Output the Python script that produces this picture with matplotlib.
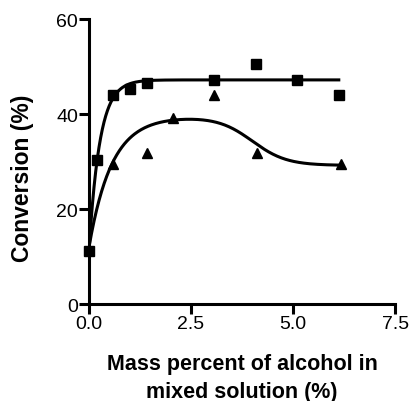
import numpy as np
import matplotlib.pyplot as plt

plt.rcParams['font.family'] = ['Liberation Sans', 'DejaVu Sans']

# measured points
sq_x = [0.0, 0.2, 0.6, 1.0, 1.43, 3.06, 4.08, 5.1, 6.12]
sq_y = [11.2, 30.3, 44.0, 45.3, 46.5, 47.2, 50.6, 47.2, 44.1]
tri_x = [0.6, 1.43, 2.06, 3.07, 4.12, 6.18]
tri_y = [29.6, 31.8, 39.2, 44.0, 31.9, 29.4]

# fitted curves (rise to plateau; rise then sigmoid drop)
def sq_fit(x):
    return 11.2 + 36.0 * (1 - np.exp(-3.8 * x))

def tri_fit(x):
    return 12.0 + 27.5 * (1 - np.exp(-1.8 * x)) - 10.3 / (1 + np.exp(-(x - 4.0) / 0.42))

xs1 = np.linspace(0, 6.12, 300)
xs2 = np.linspace(0, 6.18, 300)

fig = plt.figure(figsize=(4.12, 4.02), dpi=100)
ax = fig.add_axes([0.216, 0.241, 0.743, 0.709])

ax.plot(xs1, sq_fit(xs1), color='k', lw=2.2)
ax.plot(xs2, tri_fit(xs2), color='k', lw=2.2)
ax.plot(sq_x, sq_y, 's', color='k', ms=6.5, clip_on=False)
ax.plot(tri_x, tri_y, '^', color='k', ms=6.5, clip_on=False)

ax.set_xlim(0, 7.5)
ax.set_ylim(0, 60)
ax.set_xticks([0, 2.5, 5.0, 7.5])
ax.set_xticklabels(['0.0', '2.5', '5.0', '7.5'])
ax.set_yticks([0, 20, 40, 60])

for s in ['top', 'right']:
    ax.spines[s].set_visible(False)
for s in ['left', 'bottom']:
    ax.spines[s].set_linewidth(2.2)
ax.tick_params(width=2.2, length=7, labelsize=14, pad=1)

ax.set_xlabel('Mass percent of alcohol in\nmixed solution (%)', fontsize=15.5,
              fontweight='bold', labelpad=15, linespacing=1.45)
ax.set_ylabel('Conversion (%)', fontsize=16.5, fontweight='bold')
ax.yaxis.set_label_coords(-0.18, 0.445)

fig.savefig('out.png', dpi=100)
